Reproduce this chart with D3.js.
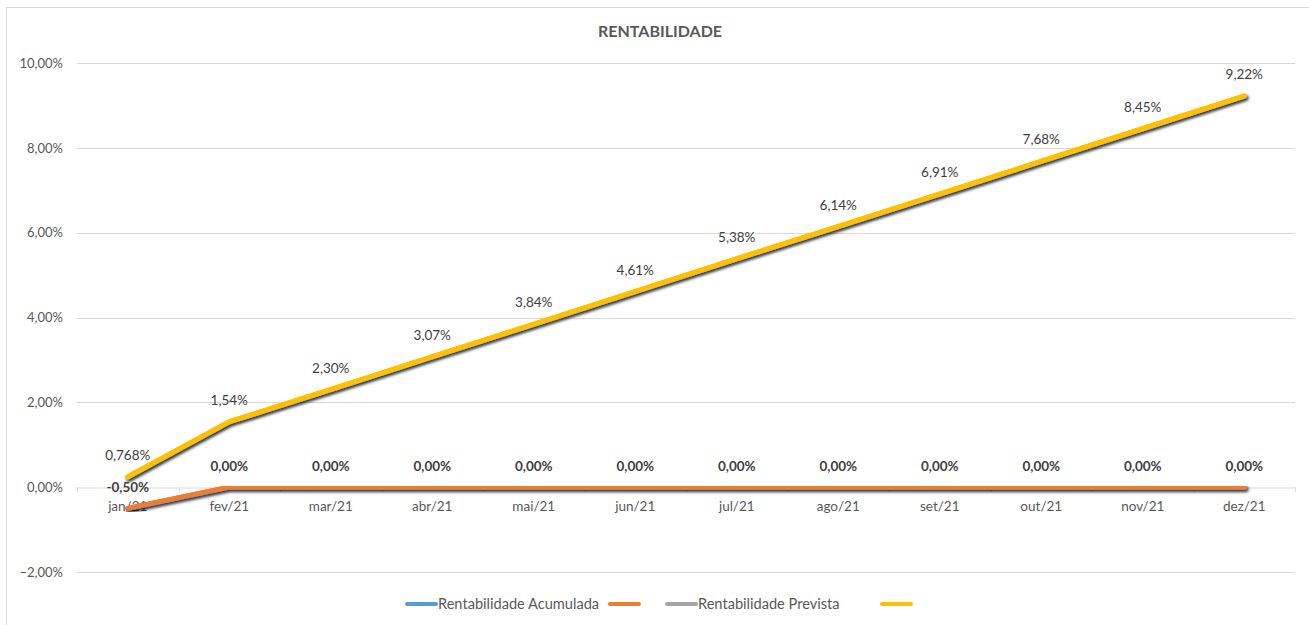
<!DOCTYPE html>
<html>
<head>
<meta charset="utf-8">
<title>Rentabilidade</title>
<style>
  body {margin: 0; background: #fff;}
  svg {display: block; font-family: Lato, "Open Sans", sans-serif;}
</style>
</head>
<body>
<svg></svg>
<script src="https://d3js.org/d3.v7.min.js"></script>
<script>
// data
const months = ["jan/21","fev/21","mar/21","abr/21","mai/21","jun/21","jul/21","ago/21","set/21","out/21","nov/21","dez/21"];
const acumulada = [-0.5, 0, 0, 0, 0, 0, 0, 0, 0, 0, 0, 0];
const acumuladaLabels = ["-0,50%","0,00%","0,00%","0,00%","0,00%","0,00%","0,00%","0,00%","0,00%","0,00%","0,00%","0,00%"];
const prevista = [0.24, 1.54, 2.30, 3.07, 3.84, 4.61, 5.38, 6.14, 6.91, 7.68, 8.45, 9.22];
const previstaLabels = ["0,768%","1,54%","2,30%","3,07%","3,84%","4,61%","5,38%","6,14%","6,91%","7,68%","8,45%","9,22%"];
const yTicks = [-2, 0, 2, 4, 6, 8, 10];
const legendNames = ["Rentabilidade Acumulada", "", "Rentabilidade Prevista", ""];
const colors = ["#5B9BD5", "#ED7D31", "#A5A5A5", "#FFC000"];

let width = 1309, height = 625;
let svg = d3.select("svg").attr("width", width).attr("height", height);

// drop shadow like the spreadsheet
let defs = svg.append("defs");
let f = defs.append("filter").attr("id", "shadow").attr("x", "-5%").attr("y", "-5%").attr("width", "110%").attr("height", "120%");
f.append("feDropShadow").attr("dx", 1.5).attr("dy", 2).attr("stdDeviation", 1.5)
  .attr("flood-color", "#000").attr("flood-opacity", 0.55);

svg.append("rect").attr("x", 6.5).attr("y", 7.5).attr("width", width).attr("height", height)
  .attr("fill", "#fff").attr("stroke", "#d9d9d9");

let x = d3.scaleBand().domain(months).range([77, 1295]);
let y = d3.scaleLinear().domain([-2, 10]).range([572, 63]);

svg.append("text").attr("x", 660).attr("y", 37).attr("text-anchor", "middle")
  .attr("font-size", 16).attr("font-weight", "bold").attr("fill", "#595959").text("RENTABILIDADE");

// gridlines
svg.append("g").selectAll("line").data(yTicks.filter(d => d !== 0)).join("line")
  .attr("x1", 77).attr("x2", 1295)
  .attr("y1", d => Math.round(y(d)) + 0.5).attr("y2", d => Math.round(y(d)) + 0.5)
  .attr("stroke", "#d9d9d9");

let yAxis = svg.append("g").attr("transform", "translate(77,0)")
  .call(d3.axisLeft(y).tickValues(yTicks).tickSize(0).tickPadding(14)
    .tickFormat(d => d3.format(".2f")(d).replace(".", ",") + "%"));
yAxis.select(".domain").remove();
yAxis.selectAll("text").attr("font-size", 13).attr("fill", "#595959").attr("font-family", "Lato, sans-serif");

let xAxis = svg.append("g").attr("transform", "translate(0," + (Math.round(y(0)) + 0.5) + ")")
  .call(d3.axisBottom(x).tickSize(0).tickPadding(14));
xAxis.select(".domain").attr("stroke", "#d9d9d9");
xAxis.selectAll("text").attr("font-size", 13.5).attr("fill", "#595959").attr("font-family", "Lato, sans-serif");
svg.append("g").selectAll("line").data(months.concat(["end"])).join("line")
  .attr("x1", (d, i) => Math.round(77 + i * x.step()) + 0.5)
  .attr("x2", (d, i) => Math.round(77 + i * x.step()) + 0.5)
  .attr("y1", Math.round(y(0))).attr("y2", Math.round(y(0)) + 5)
  .attr("stroke", "#d9d9d9");

let cx = d => x(d) + x.bandwidth() / 2;
let line = d3.line().x((d, i) => cx(months[i])).y(d => y(d));

let series = [acumulada, acumulada, prevista, prevista];
series.forEach((s, k) => {
  svg.append("path").datum(s).attr("d", line)
    .attr("fill", "none").attr("stroke", colors[k]).attr("stroke-width", 5)
    .attr("stroke-linecap", "round").attr("stroke-linejoin", "round")
    .attr("filter", "url(#shadow)");
});

// data labels
svg.append("g").selectAll("text").data(prevista).join("text")
  .attr("x", (d, i) => cx(months[i])).attr("y", d => y(d) - 17)
  .attr("text-anchor", "middle").attr("font-size", 13.5).attr("fill", "#404040")
  .text((d, i) => previstaLabels[i]);
svg.append("g").selectAll("text").data(acumulada).join("text")
  .attr("x", (d, i) => cx(months[i])).attr("y", d => y(d) - 16)
  .attr("text-anchor", "middle").attr("font-size", 13.5).attr("font-weight", "bold").attr("fill", "#404040")
  .text((d, i) => acumuladaLabels[i]);

// legend
let legendX = [405, 608, 665, 880];
let lg = svg.append("g");
legendNames.forEach((n, k) => {
  lg.append("line").attr("x1", legendX[k] + 2).attr("x2", legendX[k] + 31)
    .attr("y1", 604).attr("y2", 604).attr("stroke", colors[k]).attr("stroke-width", 4)
    .attr("stroke-linecap", "round");
  if (n) lg.append("text").attr("x", legendX[k] + 33).attr("y", 609)
    .attr("font-size", 14.6).attr("fill", "#595959").text(n);
});
</script>
</body>
</html>
